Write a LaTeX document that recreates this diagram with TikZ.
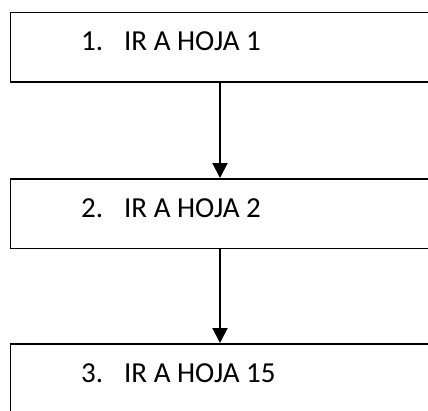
\documentclass[tikz,border=0pt]{standalone}
\usepackage{fontspec}
\setmainfont{Carlito}
\usetikzlibrary{arrows.meta}
\begin{document}
\begin{tikzpicture}[x=1pt,y=-1pt,
  stepbox/.style={draw=black,line width=1.5pt,rectangle,inner sep=0pt,anchor=north west,minimum width=432pt,minimum height=69.5pt},
  steptext/.style={anchor=base west,inner sep=0pt,font=\fontsize{29}{34}\selectfont},
  flow/.style={line width=2pt,-{Triangle[length=15pt,width=15pt]}}]
\useasboundingbox (0,0) rectangle (428,410);
\clip (0,0) rectangle (428,410);
\node[stepbox] (b1) at (9.5,11.5) {};
\node[stepbox] (b2) at (9.5,178) {};
\node[stepbox] (b3) at (9.5,343) {};
\node[steptext] (t1) at (81,50) {\makebox[43pt][l]{1.}IR A HOJA 1};
\node[steptext] (t2) at (81,217) {\makebox[43pt][l]{2.}IR A HOJA 2};
\node[steptext] (t3) at (81,382) {\makebox[43pt][l]{3.}IR A HOJA 15};
\coordinate (ax) at (220,0);
\draw[flow] (b1.south -| ax) -- (b2.north -| ax);
\draw[flow] (b2.south -| ax) -- (b3.north -| ax);
\end{tikzpicture}
\end{document}
